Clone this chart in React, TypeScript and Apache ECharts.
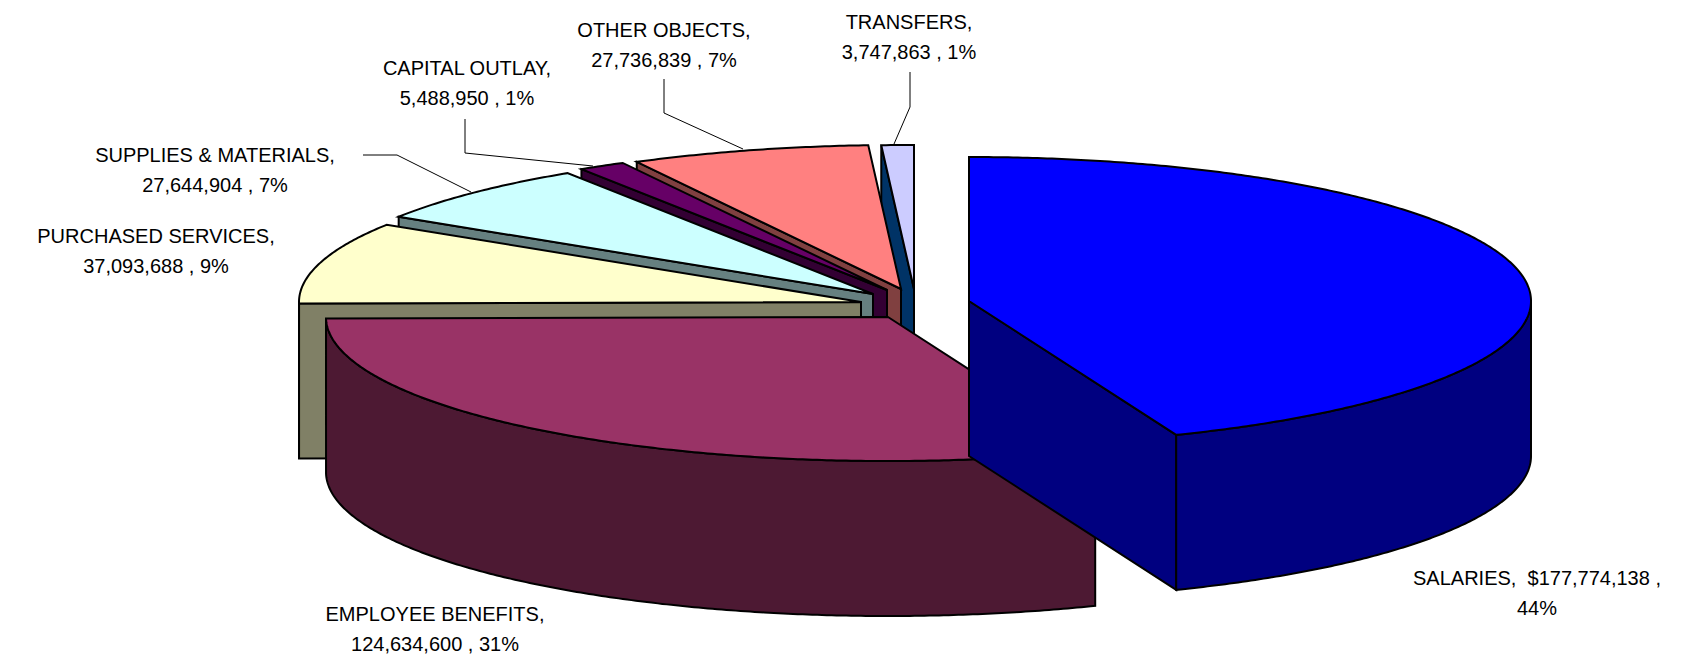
import { useEffect, useRef } from "react";
import * as echarts from "echarts";

// Budget by object of expenditure, clockwise from twelve o'clock.
const categories = [
  "SALARIES",
  "EMPLOYEE BENEFITS",
  "PURCHASED SERVICES",
  "SUPPLIES & MATERIALS",
  "CAPITAL OUTLAY",
  "OTHER OBJECTS",
  "TRANSFERS",
];
const amounts = [177774138, 124634600, 37093688, 27644904, 5488950, 27736839, 3747863];

const topColors = ["#0000FF", "#993366", "#FFFFCC", "#CCFFFF", "#660066", "#FF8080", "#CCCCFF"];
const sideColors = ["#000080", "#4D1933", "#808066", "#668080", "#330033", "#804040", "#003366"];

// Pie geometry: tilted ellipse, extrusion height, and how far each slice is pulled out.
const CENTER = [916, 304];
const RX = 562;
const RY = 144;
const DEPTH = 155;
const pullOut = [[53, -3], [-28, 13], [-55, -2], [-43, -10], [-29, -14], [-15, -15], [-2, -15]];
// Back-to-front stacking of the slices.
const stacking = [7, 6, 5, 4, 3, 2, 1];

// Label anchors (centre x, centre y) and leader polylines.
const labelAnchors = [
  [1537, 593], [435, 629], [156, 251], [215, 170], [467, 83], [664, 45], [909, 37],
];
const leaders: (number[][] | null)[] = [
  null,
  null,
  null,
  [[363, 155], [397, 155], [471, 192]],
  [[465, 119], [465, 153], [593, 166]],
  [[664, 79], [664, 113], [743, 149]],
  [[910, 72], [910, 107], [894, 144]],
];

const total = amounts.reduce((a, b) => a + b, 0);
const money = (v: number) => v.toLocaleString("en-US");

function labelText(i: number) {
  const pct = Math.round((amounts[i] / total) * 100);
  return i === 0
    ? `${categories[i]},  $${money(amounts[i])} ,\n${pct}%`
    : `${categories[i]},\n${money(amounts[i])} , ${pct}%`;
}

const DEG = Math.PI / 180;

function arcPoints(ax: number, ay: number, from: number, to: number, dy = 0) {
  const pts: number[][] = [];
  const steps = Math.max(2, Math.ceil((to - from) / 0.5));
  for (let k = 0; k <= steps; k++) {
    const a = (from + ((to - from) * k) / steps) * DEG;
    pts.push([ax + RX * Math.sin(a), ay - RY * Math.cos(a) + dy]);
  }
  return pts;
}

function renderSlice(params: any, api: any) {
  const i = params.dataIndex;
  const value = api.value(0);
  let before = 0;
  for (let k = 0; k < i; k++) before += amounts[k];
  const start = (before / total) * 360;
  const end = start + (value / total) * 360;
  const ax = CENTER[0] + pullOut[i][0];
  const ay = CENTER[1] + pullOut[i][1];
  const z2 = stacking[i];
  const outline = { stroke: "#000", lineWidth: 2, lineJoin: "miter" };
  const side = { ...outline, fill: sideColors[i] };
  const children: any[] = [];

  const face = (deg: number) => {
    const [p] = arcPoints(ax, ay, deg, deg + 1);
    children.push({
      type: "polygon",
      z2,
      shape: { points: [[ax, ay], p, [p[0], p[1] + DEPTH], [ax, ay + DEPTH]] },
      style: side,
    });
  };

  // Cut faces turned toward the viewer.
  if (start > 180 && start < 360) face(start);
  if (end > 0 && end < 180) face(end);

  // Outer wall, only where the rim is on the near side.
  const rimFrom = Math.max(start, 90);
  const rimTo = Math.min(end, 270);
  if (rimTo > rimFrom) {
    const upper = arcPoints(ax, ay, rimFrom, rimTo);
    const lower = arcPoints(ax, ay, rimFrom, rimTo, DEPTH).reverse();
    children.push({
      type: "polygon",
      z2,
      shape: { points: [...upper, ...lower] },
      style: side,
    });
  }

  // Top surface.
  children.push({
    type: "polygon",
    z2,
    shape: { points: [[ax, ay], ...arcPoints(ax, ay, start, end)] },
    style: { ...outline, fill: topColors[i] },
  });

  return { type: "group", children };
}

export default function App() {
  const ref = useRef<HTMLDivElement>(null);

  useEffect(() => {
    const chart = echarts.init(ref.current!, undefined, { renderer: "svg" });
    const graphics: any[] = [];
    categories.forEach((_, i) => {
      const line = leaders[i];
      if (line) {
        graphics.push({
          type: "polyline",
          z: 5,
          shape: { points: line },
          style: { stroke: "#000", lineWidth: 1, fill: "none" },
        });
      }
      graphics.push({
        type: "text",
        z: 5,
        x: labelAnchors[i][0],
        y: labelAnchors[i][1],
        style: {
          text: labelText(i),
          fill: "#000",
          font: '20px "Liberation Sans"',
          lineHeight: 30,
          align: "center",
          verticalAlign: "middle",
        },
      });
    });

    chart.setOption({
      animation: false,
      backgroundColor: "#fff",
      graphic: { elements: graphics },
      series: [
        {
          type: "custom",
          coordinateSystem: "none",
          renderItem: renderSlice,
          data: amounts.map((v, i) => ({ name: categories[i], value: [v] })),
        },
      ],
    });
    return () => chart.dispose();
  }, []);

  return (
    <div
      ref={ref}
      style={{ position: "fixed", left: 0, top: 0, width: 1699, height: 660, background: "#fff" }}
    />
  );
}
